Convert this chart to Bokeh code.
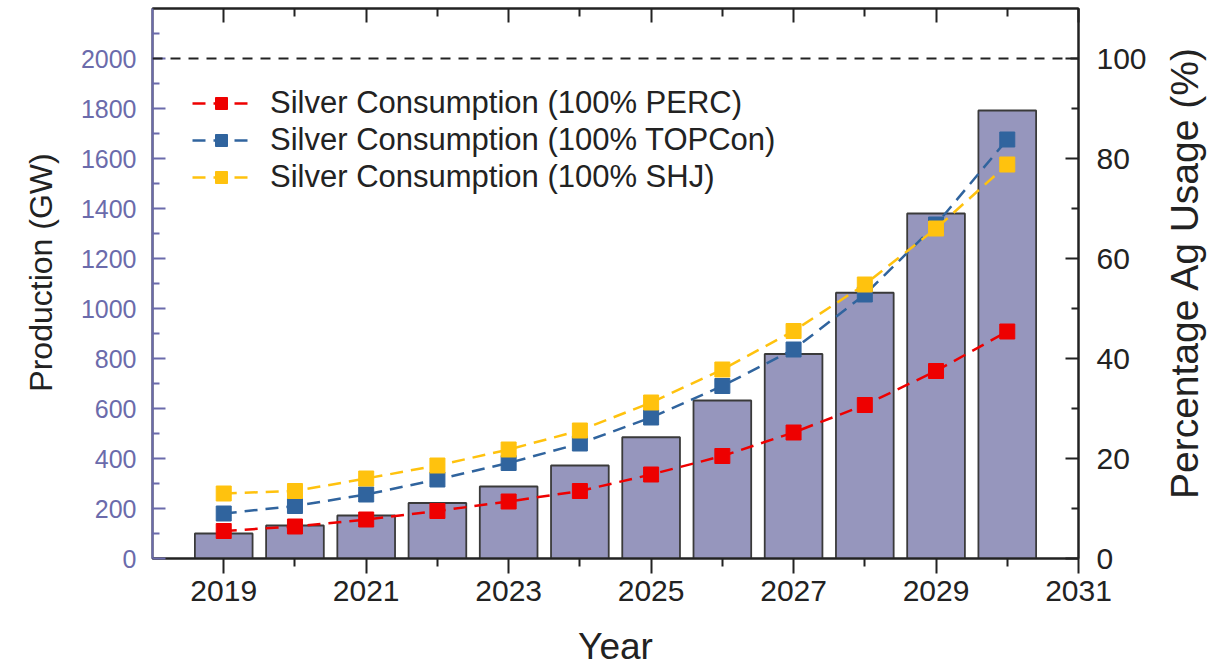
import math
from bokeh.plotting import figure
from bokeh.layouts import row
from bokeh.models import Range1d, LinearAxis, FixedTicker, Span, Legend, LegendItem, ColumnDataSource
from bokeh.embed import file_html
from bokeh.resources import INLINE

years = [2019, 2020, 2021, 2022, 2023, 2024, 2025, 2026, 2027, 2028, 2029, 2030]
production_gw = [100, 132, 172, 222, 288, 372, 485, 632, 818, 1063, 1380, 1792]
ag_perc = [5.5, 6.4, 7.8, 9.5, 11.4, 13.5, 16.8, 20.5, 25.2, 30.7, 37.5, 45.4]
ag_topcon = [9.0, 10.5, 12.8, 15.8, 19.1, 23.0, 28.2, 34.5, 41.8, 52.8, 66.8, 83.8]
ag_shj = [13.0, 13.5, 16.0, 18.6, 21.8, 25.6, 31.2, 37.8, 45.5, 54.8, 66.0, 78.8]

x_major = [2019, 2021, 2023, 2025, 2027, 2029, 2031]
x_minor = [2020, 2022, 2024, 2026, 2028, 2030]
left_major = list(range(0, 2001, 200))
left_minor = list(range(100, 2101, 200))
right_major = [0, 20, 40, 60, 80, 100]
right_minor = [10, 30, 50, 70, 90]

FONT = "Liberation Sans"
AXBLUE = "#6b6bab"
DARK = "#222222"
H = 665

src = ColumnDataSource(dict(year=years, prod=production_gw, perc=ag_perc,
                            topcon=ag_topcon, shj=ag_shj))


def title_fig(w, text, left_border, top_border, bottom_border, standoff, size):
    # a thin figure whose only visible content is a bottom-to-top axis title
    f = figure(width=w, height=H, x_range=Range1d(0, 1), y_range=Range1d(0, 1),
               x_axis_type=None, output_backend="svg", toolbar_location=None,
               min_border_left=left_border, min_border_right=0,
               min_border_top=top_border, min_border_bottom=bottom_border)
    f.outline_line_color = None
    f.grid.visible = False
    ax = f.yaxis[0]
    ax.ticker = FixedTicker(ticks=[], minor_ticks=[])
    ax.axis_line_color = None
    ax.major_tick_line_color = None
    ax.minor_tick_line_color = None
    ax.major_label_text_color = None
    ax.axis_label = text
    ax.axis_label_standoff = standoff
    ax.axis_label_text_font = FONT
    ax.axis_label_text_font_size = size
    ax.axis_label_text_font_style = "normal"
    ax.axis_label_text_color = DARK
    return f


left_title = title_fig(60, "Production (GW)", 58, 3, 0, 0, "32px")

p = figure(frame_width=926, frame_height=550,
           x_range=Range1d(2018, 2031), y_range=Range1d(0, 2200),
           output_backend="svg", toolbar_location=None,
           min_border_left=92, min_border_right=80,
           min_border_top=8, min_border_bottom=10)
p.extra_y_ranges = {"pct": Range1d(0, 110)}
p.xgrid.visible = False
p.ygrid.visible = False
p.outline_line_color = DARK
p.outline_line_width = 2
p.background_fill_color = "white"
p.border_fill_color = "white"

# bottom axis
xa = p.xaxis[0]
xa.ticker = FixedTicker(ticks=x_major, minor_ticks=x_minor)
xa.axis_label = "Year"
xa.axis_label_text_font = FONT
xa.axis_label_text_font_size = "37px"
xa.axis_label_text_font_style = "normal"
xa.axis_label_text_color = DARK
xa.axis_label_standoff = 22
xa.major_label_text_font = FONT
xa.major_label_text_font_size = "30px"
xa.major_label_text_color = DARK
xa.major_label_standoff = 7
xa.major_tick_in = 0
xa.major_tick_out = 15
xa.minor_tick_in = 0
xa.minor_tick_out = 8
xa.axis_line_width = 2
xa.major_tick_line_width = 2
xa.minor_tick_line_width = 2
xa.axis_line_color = DARK
xa.major_tick_line_color = DARK
xa.minor_tick_line_color = DARK

# left axis
ya = p.yaxis[0]
ya.ticker = FixedTicker(ticks=left_major, minor_ticks=left_minor)
ya.major_label_text_font = FONT
ya.major_label_text_font_size = "25px"
ya.major_label_text_color = AXBLUE
ya.major_label_standoff = 16
ya.major_tick_in = 13
ya.major_tick_out = 0
ya.minor_tick_in = 7
ya.minor_tick_out = 0
ya.axis_line_color = AXBLUE
ya.major_tick_line_color = AXBLUE
ya.minor_tick_line_color = AXBLUE
ya.axis_line_width = 2
ya.major_tick_line_width = 2
ya.minor_tick_line_width = 2

# right axis
ra = LinearAxis(y_range_name="pct", ticker=FixedTicker(ticks=right_major, minor_ticks=right_minor))
ra.major_label_text_font = FONT
ra.major_label_text_font_size = "30px"
ra.major_label_text_color = DARK
ra.major_label_standoff = 18
ra.major_tick_in = 13
ra.major_tick_out = 0
ra.minor_tick_in = 7
ra.minor_tick_out = 0
ra.axis_line_width = 2
ra.major_tick_line_width = 2
ra.minor_tick_line_width = 2
ra.axis_line_color = DARK
ra.major_tick_line_color = DARK
ra.minor_tick_line_color = DARK
p.add_layout(ra, "right")

# top axis (ticks only, no labels)
ta = LinearAxis(ticker=FixedTicker(ticks=x_major, minor_ticks=x_minor))
ta.major_label_text_color = None
ta.major_label_text_font_size = "1px"
ta.major_label_standoff = 0
ta.major_tick_in = 14
ta.major_tick_out = 0
ta.minor_tick_in = 8
ta.minor_tick_out = 0
ta.axis_line_width = 2
ta.major_tick_line_width = 2
ta.minor_tick_line_width = 2
ta.axis_line_color = DARK
ta.major_tick_line_color = DARK
ta.minor_tick_line_color = DARK
p.add_layout(ta, "above")

# bars
p.vbar(x="year", top="prod", width=0.81, source=src,
       fill_color="#9696bd", line_color="#3a3a3a", line_width=1.8)

p.add_layout(Span(location=2000, dimension="width", line_color=DARK,
                  line_dash="10 8", line_width=2))

series = [("perc", "#ee0000", "Silver Consumption (100% PERC)"),
          ("topcon", "#30649e", "Silver Consumption (100% TOPCon)"),
          ("shj", "#ffc20e", "Silver Consumption (100% SHJ)")]
items = []
for col, color, label in series:
    ln = p.line("year", col, source=src, y_range_name="pct", line_color=color,
                line_width=2.5, line_dash="13 8")
    sc = p.scatter("year", col, source=src, y_range_name="pct", marker="square",
                   size=15, fill_color=color, line_color=color)
    items.append(LegendItem(label=label, renderers=[ln, sc]))

legend = Legend(items=items, location=(40, 363))
legend.border_line_alpha = 0
legend.background_fill_alpha = 0
legend.label_text_font = FONT
legend.label_text_font_size = "31px"
legend.label_text_color = DARK
legend.glyph_width = 58
legend.glyph_height = 30
legend.label_height = 30
legend.spacing = 1
legend.padding = 0
legend.margin = 0
legend.label_standoff = 20
p.add_layout(legend)

right_title = title_fig(58, "Percentage Ag Usage (%)", 47, 0, 129, 0, "39px")

layout = row(left_title, p, right_title)
open("out.html", "w").write(file_html(layout, INLINE))
